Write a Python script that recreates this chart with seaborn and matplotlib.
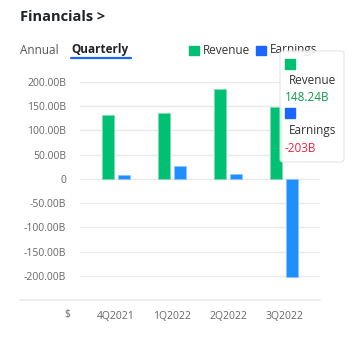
import pandas as pd
import numpy as np
import matplotlib
matplotlib.use('Agg')
import matplotlib.pyplot as plt
from matplotlib.lines import Line2D
from matplotlib.patches import Rectangle, FancyBboxPatch
import seaborn as sns

quarters = ['4Q2021', '1Q2022', '2Q2022', '3Q2022']
revenue = [131.7, 137.0, 185.0, 148.24]
earnings = [8.0, 26.5, 10.0, -203.0]
y_ticks = [200, 150, 100, 50, 0, -50, -100, -150, -200]
y_labels = ['200.00B', '150.00B', '100.00B', '50.00B', '0',
            '-50.00B', '-100.00B', '-150.00B', '-200.00B']

green = '#00c073'
blue = '#1e8fff'
legend_blue = '#1a66ff'

df = pd.DataFrame({
    'quarter': quarters * 2,
    'value': revenue + earnings,
    'metric': ['Revenue'] * 4 + ['Earnings'] * 4,
})

sns.set_style('white')
plt.rcParams['font.family'] = ['Open Sans', 'DejaVu Sans']

W, H = 364, 352
fig = plt.figure(figsize=(W / 100, H / 100), dpi=100)
ax = fig.add_axes([80 / W, 52 / H, 240 / W, 218 / H])

sns.barplot(data=df, x='quarter', y='value', hue='metric',
            palette={'Revenue': green, 'Earnings': blue}, saturation=1,
            width=0.571, gap=0.28, legend=False, ax=ax,
            edgecolor='#7fdcb5', linewidth=0.6, zorder=3)
for p in ax.patches:
    if p.get_facecolor()[2] > 0.9:
        p.set_edgecolor('#8cc4ff')

ax.set_xlim(-0.643, 3.643)
ax.set_ylim(-250, 200)
ax.set_yticks(y_ticks)
ax.set_yticklabels(y_labels)
for t in y_ticks:
    ax.axhline(t, color='#e8e9ec', lw=1, zorder=1)
ax.tick_params(axis='y', length=0, pad=10, labelsize=7.5, labelcolor='#666666')
ax.tick_params(axis='x', length=0, pad=8, labelsize=7.5, labelcolor='#666666')
ax.set_xlabel('')
ax.set_ylabel('')
for s in ax.spines.values():
    s.set_visible(False)

# bottom separator line and "$"
fig.add_artist(Line2D([20 / W, 320 / W], [1 - 300 / H, 1 - 300 / H],
                      color='#e8e9ec', lw=1.2))
fig.text(67 / W, 1 - 315 / H, '$', ha='center', va='center',
         fontsize=7.5, color='#666666')

# header
fig.text(20 / W, 1 - 17 / H, 'Financials >', ha='left', va='center',
         fontsize=10.5, fontweight='bold', color='#1f2329')
fig.text(20 / W, 1 - 50 / H, 'Annual', ha='left', va='center',
         fontsize=8.5, color='#555555')
fig.text(71 / W, 1 - 50 / H, 'Quarterly', ha='left', va='center',
         fontsize=8.5, fontweight='bold', color='#1f2329')
fig.add_artist(Line2D([71 / W, 131 / W], [1 - 58 / H, 1 - 58 / H],
                      color='#1a66ff', lw=1.6))

# legend
fig.add_artist(Rectangle((189 / W, 1 - 55 / H), 10 / W, 9 / H,
                         transform=fig.transFigure, color=green))
fig.text(203 / W, 1 - 50 / H, 'Revenue', ha='left', va='center',
         fontsize=8.5, color='#333333')
fig.add_artist(Rectangle((256 / W, 1 - 55 / H), 10 / W, 9 / H,
                         transform=fig.transFigure, color=legend_blue))
fig.text(270 / W, 1 - 50 / H, 'Earnings', ha='left', va='center',
         fontsize=8.5, color='#333333')

# tooltip
fig.add_artist(FancyBboxPatch((280 / W, 1 - 162 / H), 64 / W, 111 / H,
                              boxstyle='round,pad=0,rounding_size=0.008',
                              transform=fig.transFigure, facecolor='white',
                              edgecolor='#dde1e6', lw=0.8, alpha=0.88,
                              zorder=10))
fig.add_artist(Rectangle((285 / W, 1 - 69 / H), 10 / W, 10 / H,
                         transform=fig.transFigure, color=green, zorder=11))
fig.text(289 / W, 1 - 81 / H, 'Revenue', ha='left', va='center',
         fontsize=8.5, color='#333333', zorder=11)
fig.text(285 / W, 1 - 97 / H, '148.24B', ha='left', va='center',
         fontsize=8.5, color='#0f9a4a', zorder=11)
fig.add_artist(Rectangle((285 / W, 1 - 118 / H), 10 / W, 10 / H,
                         transform=fig.transFigure, color=legend_blue, zorder=11))
fig.text(289 / W, 1 - 131 / H, 'Earnings', ha='left', va='center',
         fontsize=8.5, color='#333333', zorder=11)
fig.text(285 / W, 1 - 148 / H, '-203B', ha='left', va='center',
         fontsize=8.5, color='#f5223f', zorder=11)

fig.savefig('out.png', dpi=100)
